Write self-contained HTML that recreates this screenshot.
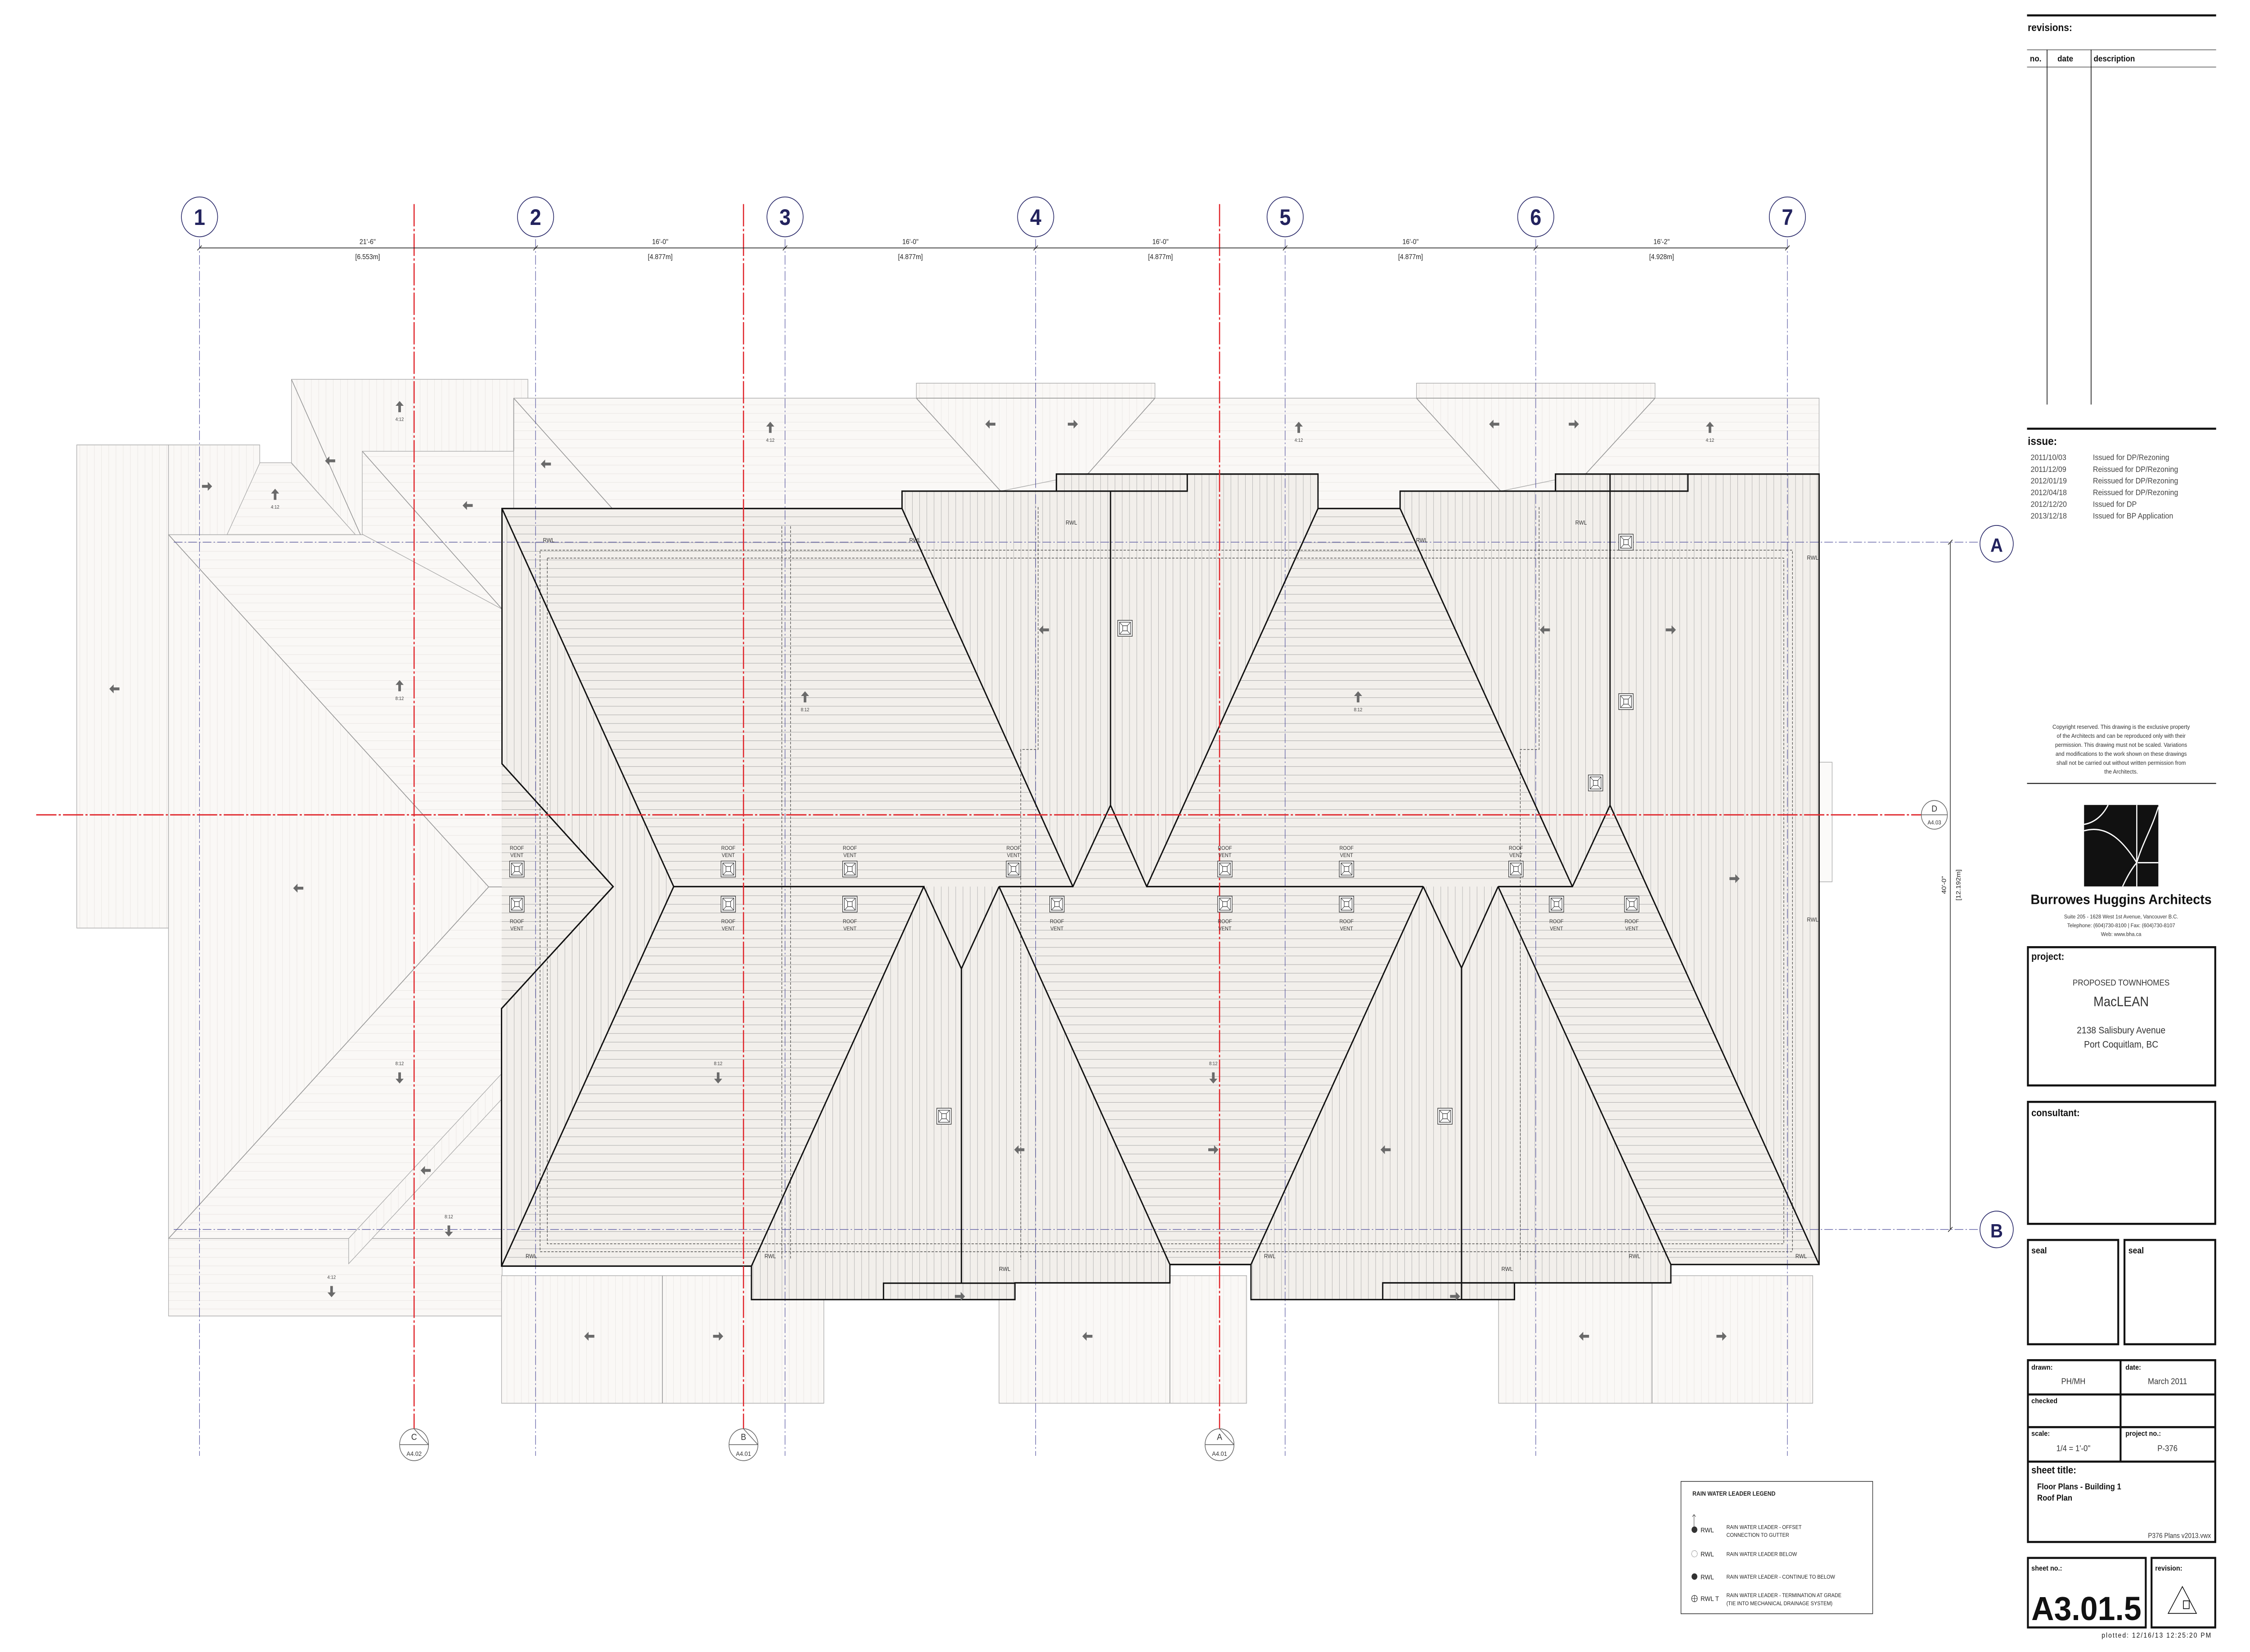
<!DOCTYPE html>
<html><head><meta charset="utf-8"><style>
html,body{margin:0;padding:0;background:#fff;overflow:hidden;width:100vw;height:100vh;}
svg{display:block;width:100vw;height:100vh;}
text{font-family:"Liberation Sans",sans-serif;}
</style></head><body>
<svg xmlns="http://www.w3.org/2000/svg" viewBox="0 0 1554 1036" preserveAspectRatio="none">
<defs>
<pattern id="hH" patternUnits="userSpaceOnUse" width="10" height="5.4"><rect width="10" height="5.4" fill="#f2efeb"/><line x1="0" y1="0.1" x2="10" y2="0.1" stroke="#8f8f8f" stroke-width="0.22"/></pattern>
<pattern id="hV" patternUnits="userSpaceOnUse" width="5" height="10"><rect width="5" height="10" fill="#f2efeb"/><line x1="0.1" y1="0" x2="0.1" y2="10" stroke="#9a9a9a" stroke-width="0.22"/></pattern>
<pattern id="lH" patternUnits="userSpaceOnUse" width="10" height="5.4"><rect width="10" height="5.4" fill="#faf8f6"/><line x1="0" y1="0.1" x2="10" y2="0.1" stroke="#e2dedb" stroke-width="0.2"/></pattern>
<pattern id="lV" patternUnits="userSpaceOnUse" width="5" height="10"><rect width="5" height="10" fill="#faf8f6"/><line x1="0.1" y1="0" x2="0.1" y2="10" stroke="#e2dedb" stroke-width="0.2"/></pattern>
<g id="ar"><path d="M-3.5,-0.9 H0.5 V-2.8 L3.5,0 L0.5,2.8 V0.9 H-3.5 Z" fill="#6a6a6a"/></g>
<g id="vt"><rect x="-5" y="-5" width="10" height="10" fill="#fff" stroke="#333" stroke-width="0.4"/><rect x="-3.8" y="-3.8" width="7.6" height="7.6" fill="none" stroke="#333" stroke-width="0.35"/><rect x="-1.6" y="-1.6" width="3.2" height="3.2" fill="none" stroke="#333" stroke-width="0.35"/><path d="M-3.8,-3.8L-1.6,-1.6M3.8,-3.8L1.6,-1.6M-3.8,3.8L-1.6,1.6M3.8,3.8L1.6,1.6" stroke="#333" stroke-width="0.3"/></g>
</defs>
<rect width="1554" height="1036" fill="#fff"/>

<g stroke="#aaa" stroke-width="0.4">
<rect x="53" y="279" width="63.4" height="303" fill="url(#lV)"/>
<rect x="116.4" y="335.3" width="230.4" height="441.4" fill="url(#lH)"/>
<polygon points="116.4,335.3 337.5,556.2 116.4,776.7" fill="url(#lV)"/>
<rect x="116.4" y="776.7" width="230.4" height="48.6" fill="url(#lH)"/>
<polygon points="240.8,776.7 346.8,673 346.8,689 240.8,792.5" fill="url(#lV)"/>
<rect x="116.4" y="279" width="63" height="56.3" fill="url(#lV)"/>
<polygon points="156.8,335.3 179.5,290.2 201,290.2 245.5,335.3" fill="url(#lH)"/>
<polygon points="201.3,237.9 364.6,237.9 364.6,335 245.5,335.3 201.3,290.2" fill="url(#lV)"/>
<polygon points="250.2,283 354.8,283 354.8,335 346.8,382 250.2,335" fill="url(#lH)"/>
<rect x="354.8" y="249.7" width="901.6" height="70" fill="url(#lH)"/>
<polygon points="632.9,240.3 797.7,240.3 797.7,249.7 751.6,296.9 691.1,308 632.9,249.7" fill="url(#lV)"/>
<polygon points="978.3,240.3 1143.1,240.3 1143.1,249.7 1095.5,296.9 1036.5,308 978.3,249.7" fill="url(#lV)"/>
<rect x="346.4" y="800" width="222.6" height="80" fill="url(#lV)"/>
<rect x="690" y="800" width="171" height="80" fill="url(#lV)"/>
<rect x="1035" y="800" width="217" height="80" fill="url(#lV)"/>
<rect x="1256.4" y="478" width="9" height="75" fill="#fbfaf9"/>
</g>
<g stroke="#999" stroke-width="0.5" fill="none">
<path d="M116.4,335.3 L337.5,556.2 L116.4,776.7 M337.5,556.2 H346.8 M201.3,237.9 L249,335.4 M250.2,283 L346.8,382 M354.8,249.7 L422.8,318.8 M632.9,249.7 L691.1,308 M797.7,249.7 L751.6,296.9 M978.3,249.7 L1036.5,308 M1143.1,249.7 L1095.5,296.9 M354.8,249.7 V282.8 M632.9,249.7 H797.7 M978.3,249.7 H1143.1 M457.5,800 V880 M808,800 V880 M1141,800 V880"/>
</g>

<path d="M346.7,318.9 L623,318.9 L623,308 L729.6,308 L729.6,297.3 L910.3,297.3 L910.3,318.9 L967,318.9 L967,308 L1074.3,308 L1074.3,297.3 L1256.4,297.3 L1256.4,793 L1154,793 L1154,804.5 L1046,804.5 L1046,815 L864,815 L864,793 L808,793 L808,804.5 L701,804.5 L701,815 L519,815 L519,794 L346.4,794 L346.4,632.5 L423.5,556 L346.7,479 Z" fill="url(#hV)"/>
<g fill="url(#hH)">
<polygon points="346.7,318.9 623,318.9 741,556 465.3,556"/>
<polygon points="741,556 767,505 792,556"/>
<polygon points="910.3,318.9 967,318.9 1086,556 792,556"/>
<polygon points="465.3,556 638,556 519,794 346.4,794"/>
<polygon points="690,556 983,556 864,793 808,793"/>
<polygon points="1034.7,556 1086,556 1112,505 1256.4,793 1154,793"/>
<polygon points="346.7,479 423.5,556 346.4,632.5"/>
</g>
<g fill="none" stroke="#333" stroke-width="0.35" stroke-dasharray="1.6,1">
<path d="M373,345 H1238 V785 H373 Z"/>
<path d="M378,350 H1232 V780 H378 Z"/>
<path d="M540,330 V790 M546,330 V790 M717,318 V470 H705 V790 M1063,318 V470 H1050 V790"/>
</g>

<g stroke="#4b4b9a" stroke-width="0.35" stroke-dasharray="6,1.5,1,1.5" fill="none">
<path d="M137.8,150 V913 M369.9,150 V913 M542.2,150 V913 M715.3,150 V913 M887.6,150 V913 M1060.7,150 V913 M1234.5,150 V913"/>
<path d="M120,340 H1368 M120,771 H1368"/>
</g>

<g fill="none" stroke="#111" stroke-width="0.9" stroke-linejoin="miter">
<path d="M346.7,318.9 L623,318.9 L623,308 L729.6,308 L729.6,297.3 L910.3,297.3 L910.3,318.9 L967,318.9 L967,308 L1074.3,308 L1074.3,297.3 L1256.4,297.3 L1256.4,793 L1154,793 L1154,804.5 L1046,804.5 L1046,815 L864,815 L864,793 L808,793 L808,804.5 L701,804.5 L701,815 L519,815 L519,794 L346.4,794 L346.4,632.5 L423.5,556 L346.7,479 Z"/>
<path d="M346.7,318.9 L465.3,556 L638,556 L519,794 M465.3,556 L346.4,794 M623,318.9 L741,556 M638,556 L664,607.5 L690,556 M664,607.5 V804.7 M690,556 L741,556 L767,505 L792,556 L983,556 M767,308 V505 M910.3,318.9 L792,556 M690,556 L808,793 M808,793 H864 M983,556 L864,793 M983,556 L1009.4,607 L1034.7,556 M1009.4,607 V815 M1034.7,556 L1086,556 L1112,505 L1256.4,793 M1112,297.3 V505 M967,318.9 L1086,556 M1034.7,556 L1154,793 M729.6,308 H820 V297.3 M1074.3,308 H1165.8 V297.3 M610.2,815 V804.7 H701 M955,815 V804.5 H1046"/>
</g>

<g stroke="#e0242a" stroke-width="0.8" fill="none" stroke-dasharray="14,1.5,1.5,1.5">
<path d="M286,128 V900 M513.5,128 V900 M842.3,128 V900"/>
<path d="M25,511 H1332"/>
</g>

<g>
<use href="#vt" transform="translate(357,545)"/><use href="#vt" transform="translate(357,567)"/>
<use href="#vt" transform="translate(503,545)"/><use href="#vt" transform="translate(503,567)"/>
<use href="#vt" transform="translate(587,545)"/><use href="#vt" transform="translate(587,567)"/>
<use href="#vt" transform="translate(700,545)"/><use href="#vt" transform="translate(730,567)"/>
<use href="#vt" transform="translate(846,545)"/><use href="#vt" transform="translate(846,567)"/>
<use href="#vt" transform="translate(930,545)"/><use href="#vt" transform="translate(930,567)"/>
<use href="#vt" transform="translate(1047,545)"/><use href="#vt" transform="translate(1075,567)"/>
<use href="#vt" transform="translate(1127,567)"/>
<use href="#vt" transform="translate(777,394)"/><use href="#vt" transform="translate(1123,340)"/>
<use href="#vt" transform="translate(1123,440)"/><use href="#vt" transform="translate(1102,491)"/>
<use href="#vt" transform="translate(652,700)"/><use href="#vt" transform="translate(998,700)"/>
</g>
<g font-size="3.4" fill="#333" text-anchor="middle">
<text x="357" y="533">ROOF</text><text x="357" y="537.5">VENT</text><text x="357" y="579">ROOF</text><text x="357" y="583.5">VENT</text>
<text x="503" y="533">ROOF</text><text x="503" y="537.5">VENT</text><text x="503" y="579">ROOF</text><text x="503" y="583.5">VENT</text>
<text x="587" y="533">ROOF</text><text x="587" y="537.5">VENT</text><text x="587" y="579">ROOF</text><text x="587" y="583.5">VENT</text>
<text x="700" y="533">ROOF</text><text x="700" y="537.5">VENT</text><text x="730" y="579">ROOF</text><text x="730" y="583.5">VENT</text>
<text x="846" y="533">ROOF</text><text x="846" y="537.5">VENT</text><text x="846" y="579">ROOF</text><text x="846" y="583.5">VENT</text>
<text x="930" y="533">ROOF</text><text x="930" y="537.5">VENT</text><text x="930" y="579">ROOF</text><text x="930" y="583.5">VENT</text>
<text x="1047" y="533">ROOF</text><text x="1047" y="537.5">VENT</text><text x="1075" y="579">ROOF</text><text x="1075" y="583.5">VENT</text>
<text x="1127" y="579">ROOF</text><text x="1127" y="583.5">VENT</text>
</g>
<g font-size="3.6" fill="#333">
<text x="375" y="340">RWL</text><text x="628" y="340">RWL</text><text x="736" y="329">RWL</text><text x="978" y="340">RWL</text><text x="1088" y="329">RWL</text><text x="1248" y="351">RWL</text><text x="1248" y="578">RWL</text>
<text x="363" y="789">RWL</text><text x="528" y="789">RWL</text><text x="690" y="797">RWL</text><text x="873" y="789">RWL</text><text x="1037" y="797">RWL</text><text x="1125" y="789">RWL</text><text x="1240" y="789">RWL</text>
</g>

<g>
<use href="#ar" transform="translate(276,430) rotate(-90)"/><use href="#ar" transform="translate(276,255) rotate(-90)"/>
<use href="#ar" transform="translate(190,310) rotate(-90)"/><use href="#ar" transform="translate(532,268) rotate(-90)"/>
<use href="#ar" transform="translate(556,437) rotate(-90)"/><use href="#ar" transform="translate(897,268) rotate(-90)"/>
<use href="#ar" transform="translate(938,437) rotate(-90)"/><use href="#ar" transform="translate(1181,268) rotate(-90)"/>
<use href="#ar" transform="translate(79,432) rotate(180)"/><use href="#ar" transform="translate(684,266) rotate(180)"/>
<use href="#ar" transform="translate(1032,266) rotate(180)"/><use href="#ar" transform="translate(377,291) rotate(180)"/>
<use href="#ar" transform="translate(228,289) rotate(180)"/><use href="#ar" transform="translate(323,317) rotate(180)"/>
<use href="#ar" transform="translate(721,395) rotate(180)"/><use href="#ar" transform="translate(1067,395) rotate(180)"/>
<use href="#ar" transform="translate(704,721) rotate(180)"/><use href="#ar" transform="translate(957,721) rotate(180)"/>
<use href="#ar" transform="translate(407,838) rotate(180)"/><use href="#ar" transform="translate(751,838) rotate(180)"/>
<use href="#ar" transform="translate(1094,838) rotate(180)"/><use href="#ar" transform="translate(294,734) rotate(180)"/>
<use href="#ar" transform="translate(206,557) rotate(180)"/>
<use href="#ar" transform="translate(741,266)"/><use href="#ar" transform="translate(1087,266)"/>
<use href="#ar" transform="translate(143,305)"/><use href="#ar" transform="translate(1154,395)"/>
<use href="#ar" transform="translate(1198,551)"/><use href="#ar" transform="translate(838,721)"/>
<use href="#ar" transform="translate(663,813)"/><use href="#ar" transform="translate(1005,813)"/>
<use href="#ar" transform="translate(496,838)"/><use href="#ar" transform="translate(1189,838)"/>
<use href="#ar" transform="translate(496,676) rotate(90)"/><use href="#ar" transform="translate(838,676) rotate(90)"/>
<use href="#ar" transform="translate(276,676) rotate(90)"/><use href="#ar" transform="translate(310,772) rotate(90)"/>
<use href="#ar" transform="translate(229,810) rotate(90)"/>
</g>
<g font-size="3" fill="#444" text-anchor="middle">
<text x="276" y="439">8:12</text><text x="276" y="264">4:12</text><text x="190" y="319">4:12</text><text x="532" y="277">4:12</text>
<text x="556" y="446">8:12</text><text x="897" y="277">4:12</text><text x="938" y="446">8:12</text><text x="1181" y="277">4:12</text>
<text x="496" y="668">8:12</text><text x="838" y="668">8:12</text><text x="276" y="668">8:12</text><text x="310" y="764">8:12</text><text x="229" y="802">4:12</text>
</g>

<g fill="#fff" stroke="#2b2b6b" stroke-width="0.5">
<circle cx="137.8" cy="136" r="12.5"/><circle cx="369.9" cy="136" r="12.5"/><circle cx="542.2" cy="136" r="12.5"/><circle cx="715.3" cy="136" r="12.5"/><circle cx="887.6" cy="136" r="12.5"/><circle cx="1060.7" cy="136" r="12.5"/><circle cx="1234.5" cy="136" r="12.5"/>
<circle cx="1379" cy="341" r="11.5"/><circle cx="1379" cy="771" r="11.5"/>
</g>
<g font-size="14" fill="#23235e" text-anchor="middle" font-weight="bold">
<text x="137.8" y="141">1</text><text x="369.9" y="141">2</text><text x="542.2" y="141">3</text><text x="715.3" y="141">4</text><text x="887.6" y="141">5</text><text x="1060.7" y="141">6</text><text x="1234.5" y="141">7</text>
<text x="1379" y="346" font-size="12">A</text><text x="1379" y="776" font-size="12">B</text>
</g>
<g stroke="#222" stroke-width="0.45" fill="none">
<path d="M137.8,155.5 H1234.5"/>
<path d="M136.3,157 L139.3,154 M368.4,157 L371.4,154 M540.7,157 L543.7,154 M713.8,157 L716.8,154 M886.1,157 L889.1,154 M1059.2,157 L1062.2,154 M1233,157 L1236,154"/>
<path d="M1347,340 V771 M1345.5,341.5 L1348.5,338.5 M1345.5,772.5 L1348.5,769.5"/>
</g>
<g font-size="4.4" fill="#222" text-anchor="middle">
<text x="253.9" y="153">21'-6"</text><text x="253.9" y="162.5">[6.553m]</text>
<text x="456" y="153">16'-0"</text><text x="456" y="162.5">[4.877m]</text>
<text x="628.8" y="153">16'-0"</text><text x="628.8" y="162.5">[4.877m]</text>
<text x="801.5" y="153">16'-0"</text><text x="801.5" y="162.5">[4.877m]</text>
<text x="974.2" y="153">16'-0"</text><text x="974.2" y="162.5">[4.877m]</text>
<text x="1147.6" y="153">16'-2"</text><text x="1147.6" y="162.5">[4.928m]</text>
<text transform="translate(1344,555) rotate(-90)">40'-0"</text>
<text transform="translate(1354,555) rotate(-90)">[12.192m]</text>
</g>

<g fill="#fff" stroke="#666" stroke-width="0.45">
<circle cx="286" cy="906" r="10"/><circle cx="513.5" cy="906" r="10"/><circle cx="842.3" cy="906" r="10"/><circle cx="1336" cy="511" r="9"/>
<path d="M276,906 H296 M503.5,906 H523.5 M832.3,906 H852.3 M1327,511 H1345" fill="none"/>
<path d="M286,896 L296,906 M513.5,896 L523.5,906 M842.3,896 L852.3,906" fill="none"/>
</g>
<g font-size="5.5" fill="#333" text-anchor="middle">
<text x="286" y="903">C</text><text x="513.5" y="903">B</text><text x="842.3" y="903">A</text><text x="1336" y="509">D</text>
<text x="286" y="913" font-size="4">A4.02</text><text x="513.5" y="913" font-size="4">A4.01</text><text x="842.3" y="913" font-size="4">A4.01</text><text x="1336" y="517" font-size="3.6">A4.03</text>
</g>

<rect x="1161" y="929" width="132.4" height="83" fill="#fff" stroke="#222" stroke-width="0.4"/>
<g fill="#222">
<text x="1168.9" y="938" font-size="3.8" font-weight="bold">RAIN WATER LEADER LEGEND</text>
<path d="M1170,958 V950 M1168.8,951.2 L1170,949.8 L1171.2,951.2" stroke="#222" stroke-width="0.25" fill="none"/>
<circle cx="1170.3" cy="959.3" r="2" fill="#333"/>
<circle cx="1170.3" cy="974.4" r="2" fill="none" stroke="#555" stroke-width="0.3" stroke-dasharray="0.5,0.4"/>
<circle cx="1170.3" cy="988.7" r="2" fill="#333"/>
<circle cx="1170.3" cy="1002.5" r="2" fill="none" stroke="#333" stroke-width="0.35"/>
<path d="M1168.3,1002.5 H1172.3 M1170.3,1000.5 V1004.5" stroke="#333" stroke-width="0.3"/>
<g font-size="4.2"><text x="1174.5" y="961">RWL</text><text x="1174.5" y="976">RWL</text><text x="1174.5" y="990.5">RWL</text><text x="1174.5" y="1004">RWL T</text></g>
<g font-size="3.4"><text x="1192.4" y="958.8">RAIN WATER LEADER - OFFSET</text><text x="1192.4" y="963.8">CONNECTION TO GUTTER</text>
<text x="1192.4" y="975.7">RAIN WATER LEADER BELOW</text>
<text x="1192.4" y="990">RAIN WATER LEADER - CONTINUE TO BELOW</text>
<text x="1192.4" y="1001.6">RAIN WATER LEADER - TERMINATION AT GRADE</text><text x="1192.4" y="1006.6">(TIE INTO MECHANICAL DRAINAGE SYSTEM)</text></g>
</g>

<g fill="#111">
<rect x="1400" y="9" width="130.6" height="1.3"/>
<text x="1400.5" y="19.5" font-size="6.5" font-weight="bold">revisions:</text>
<rect x="1400" y="31.1" width="130.6" height="0.3"/>
<rect x="1400" y="41.9" width="130.6" height="0.3"/>
<rect x="1413.6" y="31.1" width="0.5" height="222.6"/>
<rect x="1444" y="31.1" width="0.5" height="222.6"/>
<g font-size="5.3" font-weight="bold"><text x="1402" y="38.5">no.</text><text x="1421" y="38.5">date</text><text x="1446" y="38.5">description</text></g>
<rect x="1400" y="268.2" width="130.6" height="1.3"/>
<text x="1400.5" y="279" font-size="7" font-weight="bold">issue:</text>
<g font-size="5" fill="#444">
<text x="1402.5" y="288.5">2011/10/03</text><text x="1445.5" y="288.5">Issued for DP/Rezoning</text>
<text x="1402.5" y="296">2011/12/09</text><text x="1445.5" y="296">Reissued for DP/Rezoning</text>
<text x="1402.5" y="303.2">2012/01/19</text><text x="1445.5" y="303.2">Reissued for DP/Rezoning</text>
<text x="1402.5" y="310.5">2012/04/18</text><text x="1445.5" y="310.5">Reissued for DP/Rezoning</text>
<text x="1402.5" y="317.8">2012/12/20</text><text x="1445.5" y="317.8">Issued for DP</text>
<text x="1402.5" y="325.2">2013/12/18</text><text x="1445.5" y="325.2">Issued for BP Application</text>
</g>
<g font-size="3.7" fill="#333" text-anchor="middle">
<text x="1465" y="457">Copyright reserved. This drawing is the exclusive property</text>
<text x="1465" y="462.7">of the Architects and can be reproduced only with their</text>
<text x="1465" y="468.3">permission. This drawing must not be scaled. Variations</text>
<text x="1465" y="474">and modifications to the work shown on these drawings</text>
<text x="1465" y="479.6">shall not be carried out without written permission from</text>
<text x="1465" y="485.2">the Architects.</text>
</g>
<rect x="1400" y="491" width="130.6" height="0.6"/>
<rect x="1439.4" y="504.8" width="51.3" height="51.1"/>
<g stroke="#fff" stroke-width="0.8" fill="none">
<path d="M1475.8,504.8 V555.9 M1476.5,541 H1490.7"/>
<path d="M1439.4,521 C1455,517 1466,527 1475.8,541"/>
<path d="M1456,504.8 C1452,512 1446,516 1439.4,517"/>
<path d="M1490.7,506 C1486,520 1480,528 1475.8,541"/>
<path d="M1466,555.9 C1470,548 1473,544 1475.8,541"/>
</g>
<text x="1465" y="567" font-size="8.6" font-weight="bold" text-anchor="middle" font-family="Liberation Serif, serif" textLength="125" lengthAdjust="spacingAndGlyphs">Burrowes Huggins Architects</text>
<g font-size="3.5" fill="#333" text-anchor="middle">
<text x="1465" y="576">Suite 205 - 1628 West 1st Avenue,  Vancouver  B.C.</text>
<text x="1465" y="581.5">Telephone: (604)730-8100  |  Fax: (604)730-8107</text>
<text x="1465" y="587">Web: www.bha.ca</text>
</g>
</g>
<g fill="none" stroke="#111" stroke-width="1.3">
<rect x="1400.6" y="594" width="129.4" height="86.7"/>
<rect x="1400.6" y="691" width="129.4" height="76.5"/>
<rect x="1400.6" y="777.6" width="62.4" height="65.4"/>
<rect x="1467.3" y="777.6" width="62.7" height="65.4"/>
<rect x="1400.6" y="853" width="129.4" height="114"/>
<path d="M1464.6,853 V916.6 M1400.6,874.5 H1530 M1400.6,895 H1530 M1400.6,916.6 H1530"/>
<rect x="1400.6" y="977" width="81.4" height="43.6"/>
<rect x="1486" y="977" width="44" height="43.6"/>
</g>
<g fill="#111">
<text x="1403" y="602" font-size="6.2" font-weight="bold">project:</text>
<text x="1465" y="618" font-size="5.3" text-anchor="middle" fill="#333">PROPOSED TOWNHOMES</text>
<text x="1465" y="631" font-size="8.5" text-anchor="middle" fill="#333">MacLEAN</text>
<text x="1465" y="648" font-size="6" text-anchor="middle" fill="#333">2138 Salisbury Avenue</text>
<text x="1465" y="657" font-size="6" text-anchor="middle" fill="#333">Port Coquitlam, BC</text>
<text x="1403" y="700" font-size="6.2" font-weight="bold">consultant:</text>
<text x="1403" y="786" font-size="5.5" font-weight="bold">seal</text>
<text x="1470" y="786" font-size="5.5" font-weight="bold">seal</text>
<text x="1403" y="859" font-size="4.5" font-weight="bold">drawn:</text>
<text x="1432" y="868" font-size="5.2" text-anchor="middle" fill="#333">PH/MH</text>
<text x="1468" y="859" font-size="4.5" font-weight="bold">date:</text>
<text x="1497" y="868" font-size="5.2" text-anchor="middle" fill="#333">March 2011</text>
<text x="1403" y="880" font-size="4.5" font-weight="bold">checked</text>
<text x="1403" y="900.5" font-size="4.5" font-weight="bold">scale:</text>
<text x="1432" y="910" font-size="5.2" text-anchor="middle" fill="#333">1/4 = 1'-0"</text>
<text x="1468" y="900.5" font-size="4.5" font-weight="bold">project no.:</text>
<text x="1497" y="910" font-size="5.2" text-anchor="middle" fill="#333">P-376</text>
<text x="1403" y="924" font-size="6.2" font-weight="bold">sheet title:</text>
<text x="1407" y="934" font-size="5.2" font-weight="bold">Floor Plans - Building 1</text>
<text x="1407" y="941" font-size="5.2" font-weight="bold">Roof Plan</text>
<text x="1527" y="964.5" font-size="4.3" text-anchor="end" fill="#333">P376 Plans v2013.vwx</text>
<text x="1403" y="985" font-size="4.5" font-weight="bold">sheet no.:</text>
<text x="1403" y="1016" font-size="21" font-weight="bold" textLength="76" lengthAdjust="spacingAndGlyphs">A3.01.5</text>
<text x="1488.5" y="985" font-size="4.5" font-weight="bold">revision:</text>
<text x="1451.5" y="1027" font-size="4.3" textLength="75.5" lengthAdjust="spacing">plotted:   12/16/13   12:25:20 PM</text>
</g>
<path d="M1497.5,1011.8 L1507.3,995 L1517,1011.8 Z M1508,1003.9 h4 v4.9 h-4 Z" fill="none" stroke="#111" stroke-width="0.5"/>
</svg>
</body></html>
